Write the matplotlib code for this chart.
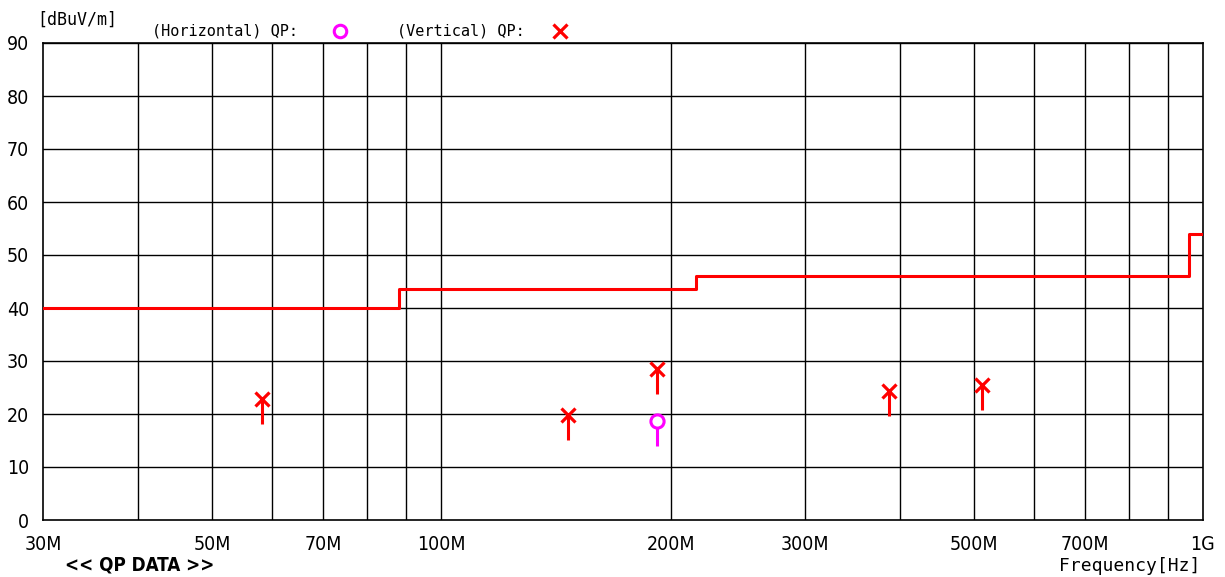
import matplotlib
matplotlib.use('Agg')
import matplotlib.pyplot as plt
import numpy as np

# limit line (step, value holds until next frequency) [MHz, dBuV/m]
limit_freq = [30, 88, 216, 960, 1000]
limit_level = [40, 43.5, 46, 54, 54]

# QP results
vert_freq = [58.2, 146.5, 191.7, 386.8, 512.0]
vert_level = [22.8, 19.8, 28.5, 24.3, 25.5]
horiz_freq = [191.7]
horiz_level = [18.7]

xticks = [30, 50, 70, 100, 200, 300, 500, 700, 1000]
xticklabels = ['30M', '50M', '70M', '100M', '200M', '300M', '500M', '700M', '1G']
xgrid = [40, 50, 60, 70, 80, 90, 100, 200, 300, 400, 500, 600, 700, 800, 900]
yticks = list(range(0, 100, 10))

mono = ['DejaVu Sans Mono']
stem = 4.7

fig = plt.figure(figsize=(12.25, 5.77), dpi=100)
ax = fig.add_axes([43 / 1225, 57 / 577, 1160 / 1225, 477 / 577])

ax.set_xscale('log')
ax.set_xlim(30, 1000)
ax.set_ylim(0, 90)

for f in xgrid:
    ax.axvline(f, color='black', lw=1.0, zorder=1)
for y in yticks[1:]:
    ax.axhline(y, color='black', lw=1.0, zorder=1)

ax.step(limit_freq, limit_level, where='post', color='#ff0000', lw=2.2, zorder=3)

ax.vlines(vert_freq, np.array(vert_level) - stem, vert_level, color='#ff0000', lw=2.2, zorder=4)
ax.plot(vert_freq, vert_level, ls='none', marker='x', ms=10, mew=2.3, color='#ff0000', zorder=5)
ax.vlines(horiz_freq, np.array(horiz_level) - stem, horiz_level, color='#ff00ff', lw=2.2, zorder=4)
ax.plot(horiz_freq, horiz_level, ls='none', marker='o', ms=9.5, mew=2.2, mfc='white', mec='#ff00ff', zorder=5)

ax.set_xticks(xticks)
ax.set_xticklabels(xticklabels, fontsize=14, fontstretch='condensed')
ax.xaxis.set_minor_locator(matplotlib.ticker.NullLocator())
ax.set_yticks(yticks)
ax.set_yticklabels([str(y) for y in yticks], fontsize=14, fontstretch='condensed')
ax.tick_params(axis='x', length=0, pad=11)
ax.tick_params(axis='y', length=0, pad=10)
for s in ax.spines.values():
    s.set_linewidth(1.2)

fig.text(37 / 1225, 1 - 20 / 577, '[dBuV/m]', family=mono, fontsize=12, va='center')
fig.text(152 / 1225, 1 - 31 / 577, '(Horizontal) QP:', family=mono, fontsize=11, va='center')
fig.text(397 / 1225, 1 - 31 / 577, '(Vertical) QP:', family=mono, fontsize=11, va='center')
fig.lines.append(plt.Line2D([340 / 1225], [1 - 31 / 577], transform=fig.transFigure, ls='none',
                            marker='o', ms=9, mew=2.2, mfc='white', mec='#ff00ff'))
fig.lines.append(plt.Line2D([560 / 1225], [1 - 31 / 577], transform=fig.transFigure, ls='none',
                            marker='x', ms=10, mew=2.3, color='#ff0000'))
fig.text(65 / 1225, 1 - 565 / 577, '<< QP DATA >>', fontsize=13.5, weight='bold', fontstretch='condensed', va='center')
fig.text(1200 / 1225, 1 - 566 / 577, 'Frequency[Hz]', family=mono, fontsize=13, va='center', ha='right')

fig.savefig('out.png', dpi=100)
